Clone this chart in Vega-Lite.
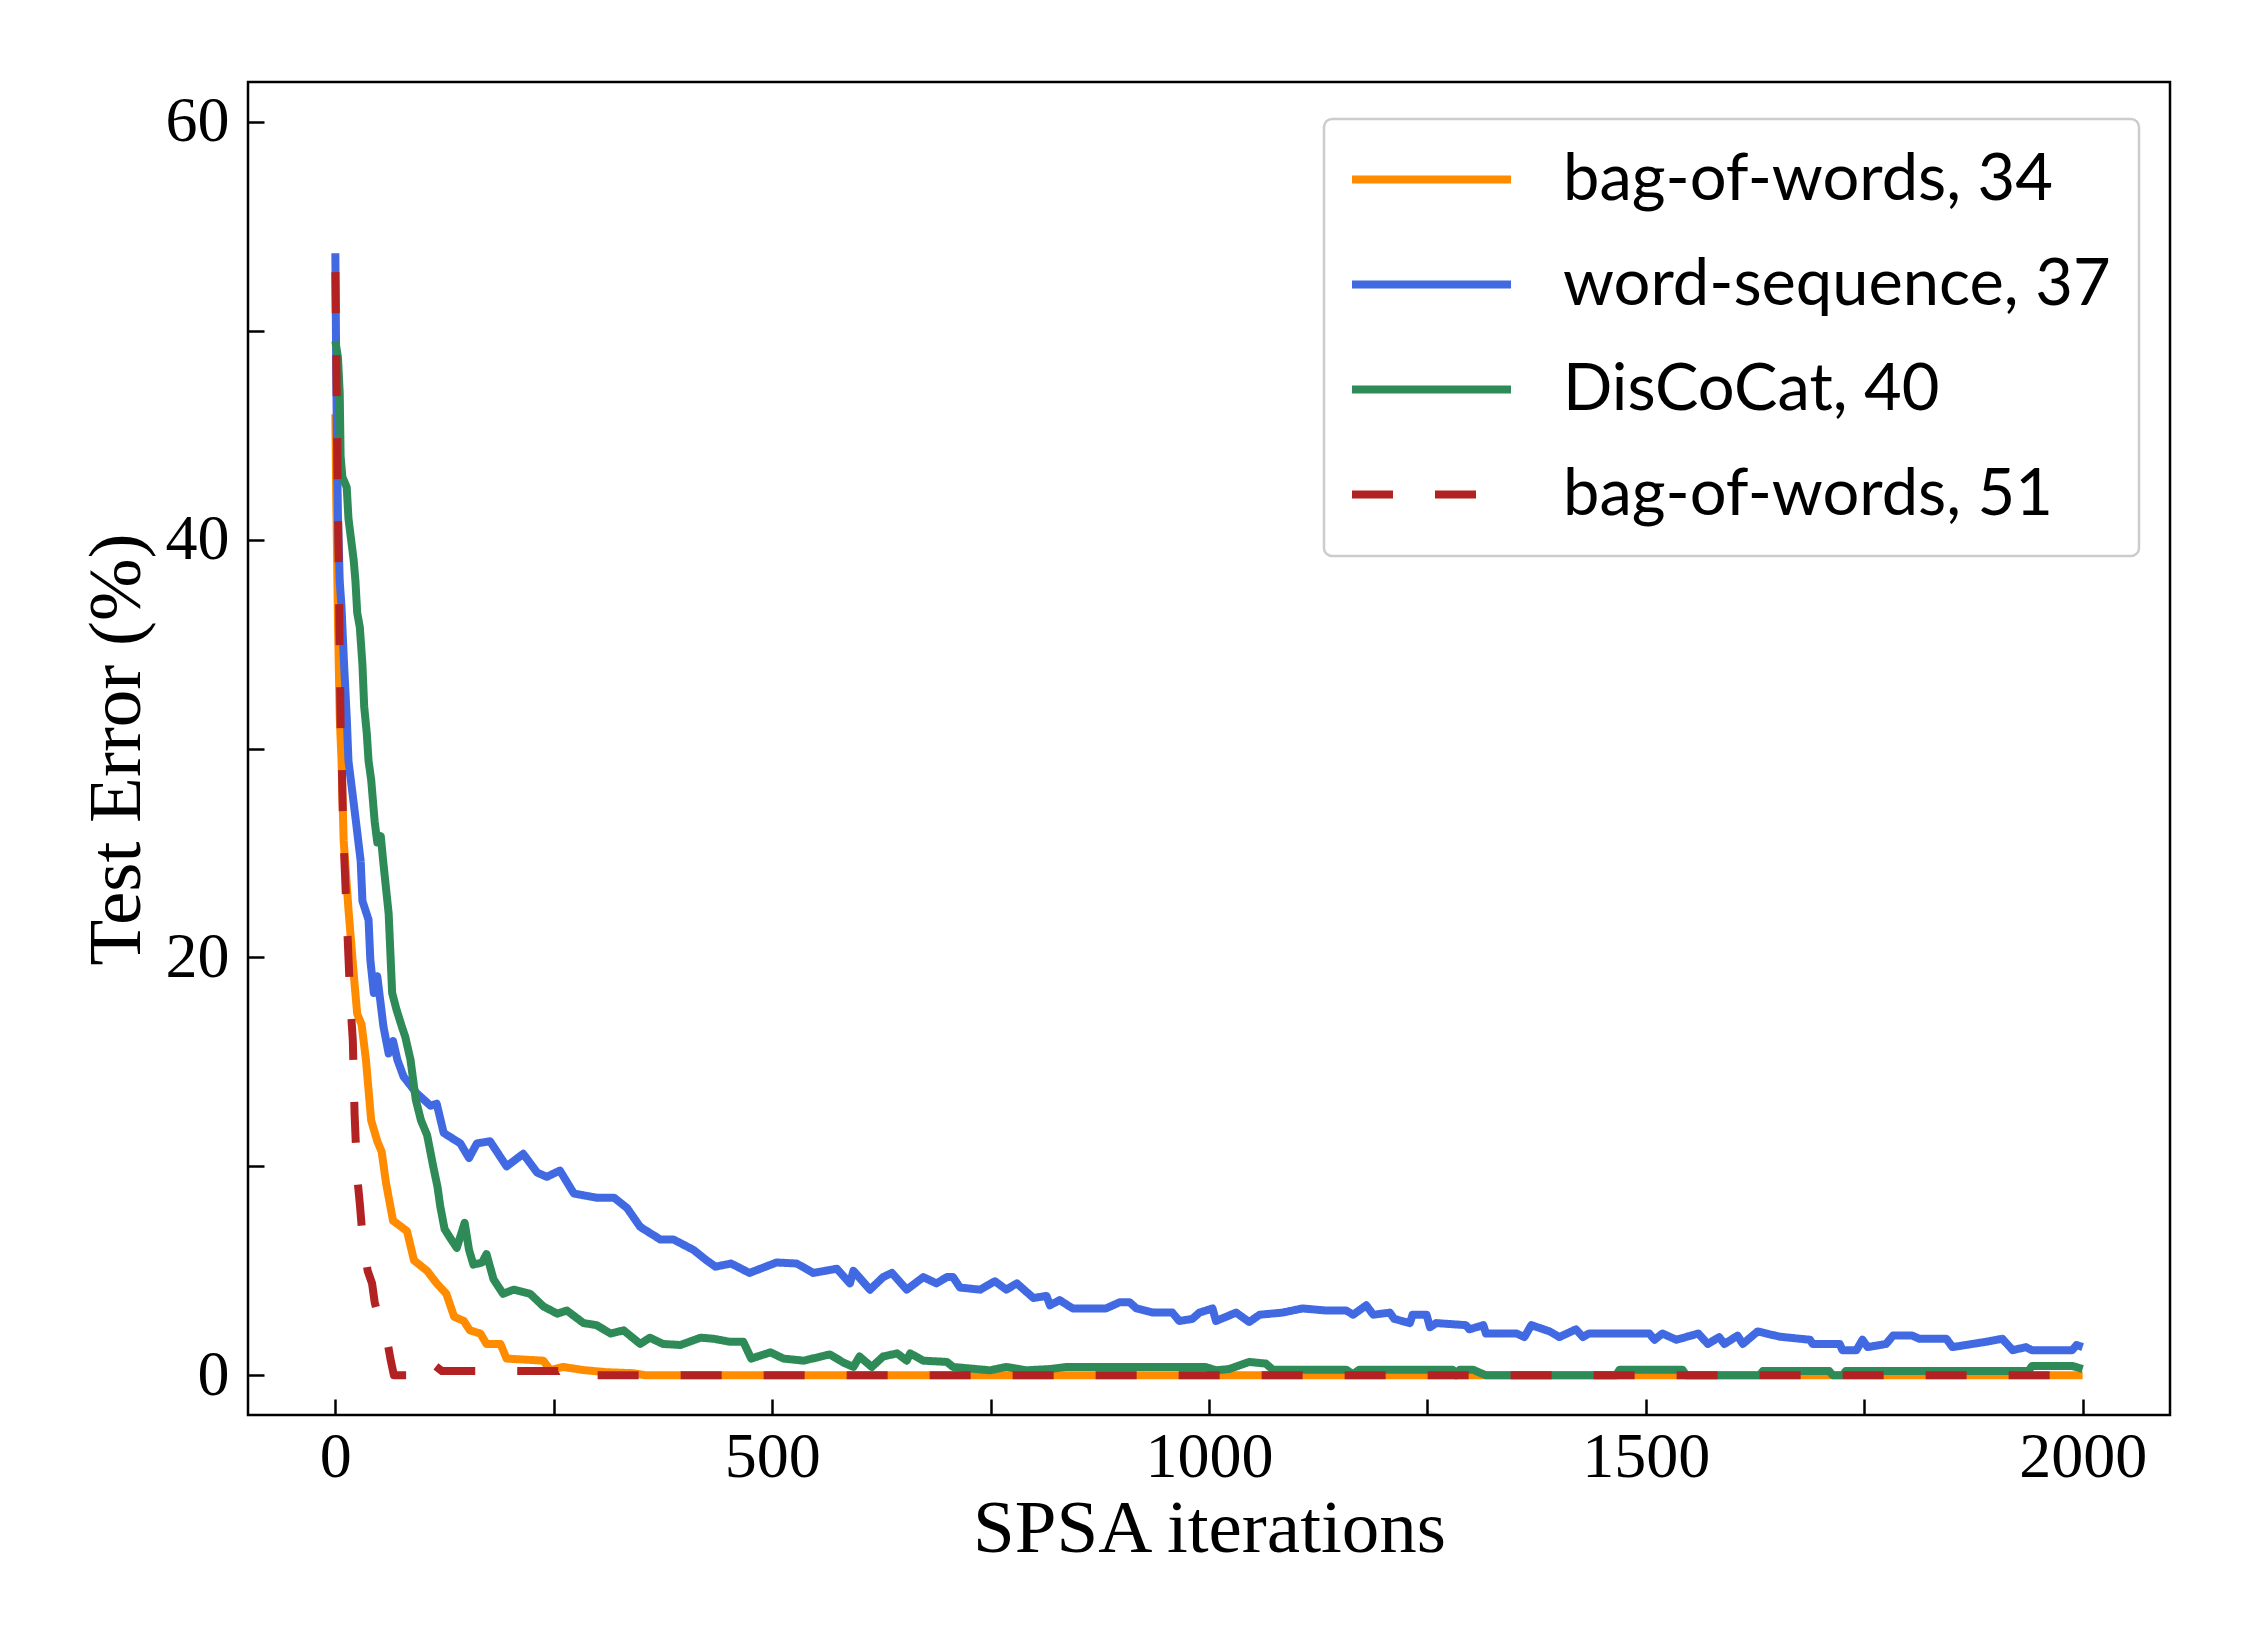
{
  "$schema": "https://vega.github.io/schema/vega-lite/v6.json",
  "width": 1922,
  "height": 1333,
  "autosize": {"type": "none"},
  "padding": {"left": 248, "top": 82, "right": 80, "bottom": 235},
  "background": "white",
  "config": {
    "view": {"stroke": "black", "strokeWidth": 2.5},
    "axis": {
      "grid": false,
      "domain": false,
      "tickColor": "black",
      "tickWidth": 2.5,
      "tickSize": -16,
      "labelFont": "Liberation Serif",
      "labelFontSize": 64,
      "labelColor": "black",
      "titleFont": "Liberation Serif",
      "titleFontSize": 75,
      "titleFontWeight": "normal",
      "titleColor": "black",
      "labelFlush": false,
      "labelOverlap": false,
      "labelBound": false
    },
    "legend": {"strokeWidth": 2.5}
  },
  "data": {
    "values": [
      {"series": "bag-of-words, 34", "iteration": 0, "error": 46},
      {"series": "bag-of-words, 34", "iteration": 1, "error": 42},
      {"series": "bag-of-words, 34", "iteration": 3, "error": 36},
      {"series": "bag-of-words, 34", "iteration": 5, "error": 31.5},
      {"series": "bag-of-words, 34", "iteration": 7, "error": 29.5},
      {"series": "bag-of-words, 34", "iteration": 9.5, "error": 25.6},
      {"series": "bag-of-words, 34", "iteration": 15, "error": 22.3},
      {"series": "bag-of-words, 34", "iteration": 21, "error": 19.2},
      {"series": "bag-of-words, 34", "iteration": 25, "error": 17.3},
      {"series": "bag-of-words, 34", "iteration": 30, "error": 16.8},
      {"series": "bag-of-words, 34", "iteration": 35, "error": 15.1},
      {"series": "bag-of-words, 34", "iteration": 41, "error": 12.2},
      {"series": "bag-of-words, 34", "iteration": 48, "error": 11.2},
      {"series": "bag-of-words, 34", "iteration": 53, "error": 10.7},
      {"series": "bag-of-words, 34", "iteration": 58, "error": 9.2},
      {"series": "bag-of-words, 34", "iteration": 66, "error": 7.4},
      {"series": "bag-of-words, 34", "iteration": 82, "error": 6.9},
      {"series": "bag-of-words, 34", "iteration": 90, "error": 5.5},
      {"series": "bag-of-words, 34", "iteration": 105, "error": 5.0},
      {"series": "bag-of-words, 34", "iteration": 116, "error": 4.4},
      {"series": "bag-of-words, 34", "iteration": 127, "error": 3.9},
      {"series": "bag-of-words, 34", "iteration": 136, "error": 2.8},
      {"series": "bag-of-words, 34", "iteration": 147, "error": 2.6},
      {"series": "bag-of-words, 34", "iteration": 154, "error": 2.15},
      {"series": "bag-of-words, 34", "iteration": 166, "error": 2.0},
      {"series": "bag-of-words, 34", "iteration": 173, "error": 1.5},
      {"series": "bag-of-words, 34", "iteration": 189, "error": 1.5},
      {"series": "bag-of-words, 34", "iteration": 196, "error": 0.8},
      {"series": "bag-of-words, 34", "iteration": 238, "error": 0.7},
      {"series": "bag-of-words, 34", "iteration": 246, "error": 0.25},
      {"series": "bag-of-words, 34", "iteration": 261, "error": 0.4},
      {"series": "bag-of-words, 34", "iteration": 284, "error": 0.25},
      {"series": "bag-of-words, 34", "iteration": 310, "error": 0.15},
      {"series": "bag-of-words, 34", "iteration": 341, "error": 0.1},
      {"series": "bag-of-words, 34", "iteration": 355, "error": 0},
      {"series": "bag-of-words, 34", "iteration": 2000, "error": 0},

      {"series": "word-sequence, 37", "iteration": 0, "error": 53.7},
      {"series": "word-sequence, 37", "iteration": 1, "error": 48},
      {"series": "word-sequence, 37", "iteration": 2, "error": 44},
      {"series": "word-sequence, 37", "iteration": 3, "error": 41},
      {"series": "word-sequence, 37", "iteration": 5, "error": 38},
      {"series": "word-sequence, 37", "iteration": 7, "error": 36.8},
      {"series": "word-sequence, 37", "iteration": 10, "error": 34},
      {"series": "word-sequence, 37", "iteration": 13, "error": 31.5},
      {"series": "word-sequence, 37", "iteration": 15, "error": 29.4},
      {"series": "word-sequence, 37", "iteration": 23, "error": 26.7},
      {"series": "word-sequence, 37", "iteration": 29, "error": 24.6},
      {"series": "word-sequence, 37", "iteration": 31, "error": 22.7},
      {"series": "word-sequence, 37", "iteration": 38, "error": 21.8},
      {"series": "word-sequence, 37", "iteration": 40, "error": 19.9},
      {"series": "word-sequence, 37", "iteration": 44, "error": 18.3},
      {"series": "word-sequence, 37", "iteration": 48, "error": 19.1},
      {"series": "word-sequence, 37", "iteration": 55, "error": 16.7},
      {"series": "word-sequence, 37", "iteration": 61, "error": 15.4},
      {"series": "word-sequence, 37", "iteration": 66, "error": 16.0},
      {"series": "word-sequence, 37", "iteration": 71, "error": 15.1},
      {"series": "word-sequence, 37", "iteration": 78, "error": 14.3},
      {"series": "word-sequence, 37", "iteration": 93, "error": 13.5},
      {"series": "word-sequence, 37", "iteration": 109, "error": 12.9},
      {"series": "word-sequence, 37", "iteration": 116, "error": 13.0},
      {"series": "word-sequence, 37", "iteration": 124, "error": 11.6},
      {"series": "word-sequence, 37", "iteration": 143, "error": 11.1},
      {"series": "word-sequence, 37", "iteration": 153, "error": 10.4},
      {"series": "word-sequence, 37", "iteration": 162, "error": 11.1},
      {"series": "word-sequence, 37", "iteration": 177, "error": 11.2},
      {"series": "word-sequence, 37", "iteration": 196, "error": 10.0},
      {"series": "word-sequence, 37", "iteration": 215, "error": 10.6},
      {"series": "word-sequence, 37", "iteration": 231, "error": 9.7},
      {"series": "word-sequence, 37", "iteration": 242, "error": 9.5},
      {"series": "word-sequence, 37", "iteration": 257, "error": 9.8},
      {"series": "word-sequence, 37", "iteration": 273, "error": 8.7},
      {"series": "word-sequence, 37", "iteration": 299, "error": 8.5},
      {"series": "word-sequence, 37", "iteration": 319, "error": 8.5},
      {"series": "word-sequence, 37", "iteration": 334, "error": 8.0},
      {"series": "word-sequence, 37", "iteration": 349, "error": 7.1},
      {"series": "word-sequence, 37", "iteration": 372, "error": 6.5},
      {"series": "word-sequence, 37", "iteration": 387, "error": 6.5},
      {"series": "word-sequence, 37", "iteration": 410, "error": 6.0},
      {"series": "word-sequence, 37", "iteration": 425, "error": 5.5},
      {"series": "word-sequence, 37", "iteration": 435, "error": 5.2},
      {"series": "word-sequence, 37", "iteration": 453, "error": 5.35},
      {"series": "word-sequence, 37", "iteration": 474, "error": 4.9},
      {"series": "word-sequence, 37", "iteration": 505, "error": 5.4},
      {"series": "word-sequence, 37", "iteration": 528, "error": 5.35},
      {"series": "word-sequence, 37", "iteration": 547, "error": 4.9},
      {"series": "word-sequence, 37", "iteration": 574, "error": 5.1},
      {"series": "word-sequence, 37", "iteration": 589, "error": 4.4},
      {"series": "word-sequence, 37", "iteration": 593, "error": 5.0},
      {"series": "word-sequence, 37", "iteration": 612, "error": 4.1},
      {"series": "word-sequence, 37", "iteration": 627, "error": 4.7},
      {"series": "word-sequence, 37", "iteration": 637, "error": 4.9},
      {"series": "word-sequence, 37", "iteration": 654, "error": 4.1},
      {"series": "word-sequence, 37", "iteration": 673, "error": 4.7},
      {"series": "word-sequence, 37", "iteration": 688, "error": 4.4},
      {"series": "word-sequence, 37", "iteration": 700, "error": 4.7},
      {"series": "word-sequence, 37", "iteration": 707, "error": 4.7},
      {"series": "word-sequence, 37", "iteration": 715, "error": 4.2},
      {"series": "word-sequence, 37", "iteration": 738, "error": 4.1},
      {"series": "word-sequence, 37", "iteration": 755, "error": 4.5},
      {"series": "word-sequence, 37", "iteration": 768, "error": 4.1},
      {"series": "word-sequence, 37", "iteration": 780, "error": 4.4},
      {"series": "word-sequence, 37", "iteration": 799, "error": 3.7},
      {"series": "word-sequence, 37", "iteration": 814, "error": 3.8},
      {"series": "word-sequence, 37", "iteration": 818, "error": 3.35},
      {"series": "word-sequence, 37", "iteration": 829, "error": 3.6},
      {"series": "word-sequence, 37", "iteration": 844, "error": 3.2},
      {"series": "word-sequence, 37", "iteration": 882, "error": 3.2},
      {"series": "word-sequence, 37", "iteration": 898, "error": 3.5},
      {"series": "word-sequence, 37", "iteration": 909, "error": 3.5},
      {"series": "word-sequence, 37", "iteration": 917, "error": 3.2},
      {"series": "word-sequence, 37", "iteration": 936, "error": 3.0},
      {"series": "word-sequence, 37", "iteration": 958, "error": 3.0},
      {"series": "word-sequence, 37", "iteration": 966, "error": 2.6},
      {"series": "word-sequence, 37", "iteration": 981, "error": 2.7},
      {"series": "word-sequence, 37", "iteration": 989, "error": 3.0},
      {"series": "word-sequence, 37", "iteration": 1004, "error": 3.2},
      {"series": "word-sequence, 37", "iteration": 1008, "error": 2.6},
      {"series": "word-sequence, 37", "iteration": 1031, "error": 3.0},
      {"series": "word-sequence, 37", "iteration": 1046, "error": 2.55},
      {"series": "word-sequence, 37", "iteration": 1058, "error": 2.9},
      {"series": "word-sequence, 37", "iteration": 1084, "error": 3.0},
      {"series": "word-sequence, 37", "iteration": 1107, "error": 3.2},
      {"series": "word-sequence, 37", "iteration": 1134, "error": 3.1},
      {"series": "word-sequence, 37", "iteration": 1157, "error": 3.1},
      {"series": "word-sequence, 37", "iteration": 1165, "error": 2.9},
      {"series": "word-sequence, 37", "iteration": 1180, "error": 3.35},
      {"series": "word-sequence, 37", "iteration": 1188, "error": 2.9},
      {"series": "word-sequence, 37", "iteration": 1207, "error": 3.0},
      {"series": "word-sequence, 37", "iteration": 1212, "error": 2.7},
      {"series": "word-sequence, 37", "iteration": 1230, "error": 2.5},
      {"series": "word-sequence, 37", "iteration": 1233, "error": 2.9},
      {"series": "word-sequence, 37", "iteration": 1249, "error": 2.9},
      {"series": "word-sequence, 37", "iteration": 1253, "error": 2.3},
      {"series": "word-sequence, 37", "iteration": 1260, "error": 2.5},
      {"series": "word-sequence, 37", "iteration": 1294, "error": 2.4},
      {"series": "word-sequence, 37", "iteration": 1298, "error": 2.2},
      {"series": "word-sequence, 37", "iteration": 1314, "error": 2.4},
      {"series": "word-sequence, 37", "iteration": 1317, "error": 2.0},
      {"series": "word-sequence, 37", "iteration": 1352, "error": 2.0},
      {"series": "word-sequence, 37", "iteration": 1361, "error": 1.83},
      {"series": "word-sequence, 37", "iteration": 1369, "error": 2.4},
      {"series": "word-sequence, 37", "iteration": 1390, "error": 2.1},
      {"series": "word-sequence, 37", "iteration": 1401, "error": 1.83},
      {"series": "word-sequence, 37", "iteration": 1420, "error": 2.2},
      {"series": "word-sequence, 37", "iteration": 1428, "error": 1.83},
      {"series": "word-sequence, 37", "iteration": 1435, "error": 2.0},
      {"series": "word-sequence, 37", "iteration": 1504, "error": 2.0},
      {"series": "word-sequence, 37", "iteration": 1510, "error": 1.7},
      {"series": "word-sequence, 37", "iteration": 1519, "error": 2.0},
      {"series": "word-sequence, 37", "iteration": 1535, "error": 1.7},
      {"series": "word-sequence, 37", "iteration": 1560, "error": 2.0},
      {"series": "word-sequence, 37", "iteration": 1571, "error": 1.5},
      {"series": "word-sequence, 37", "iteration": 1584, "error": 1.83},
      {"series": "word-sequence, 37", "iteration": 1590, "error": 1.5},
      {"series": "word-sequence, 37", "iteration": 1605, "error": 1.9},
      {"series": "word-sequence, 37", "iteration": 1611, "error": 1.5},
      {"series": "word-sequence, 37", "iteration": 1628, "error": 2.1},
      {"series": "word-sequence, 37", "iteration": 1653, "error": 1.85},
      {"series": "word-sequence, 37", "iteration": 1688, "error": 1.7},
      {"series": "word-sequence, 37", "iteration": 1691, "error": 1.5},
      {"series": "word-sequence, 37", "iteration": 1722, "error": 1.5},
      {"series": "word-sequence, 37", "iteration": 1725, "error": 1.2},
      {"series": "word-sequence, 37", "iteration": 1741, "error": 1.2},
      {"series": "word-sequence, 37", "iteration": 1748, "error": 1.7},
      {"series": "word-sequence, 37", "iteration": 1754, "error": 1.35},
      {"series": "word-sequence, 37", "iteration": 1775, "error": 1.5},
      {"series": "word-sequence, 37", "iteration": 1783, "error": 1.9},
      {"series": "word-sequence, 37", "iteration": 1805, "error": 1.9},
      {"series": "word-sequence, 37", "iteration": 1813, "error": 1.75},
      {"series": "word-sequence, 37", "iteration": 1844, "error": 1.75},
      {"series": "word-sequence, 37", "iteration": 1851, "error": 1.35},
      {"series": "word-sequence, 37", "iteration": 1889, "error": 1.6},
      {"series": "word-sequence, 37", "iteration": 1908, "error": 1.75},
      {"series": "word-sequence, 37", "iteration": 1920, "error": 1.2},
      {"series": "word-sequence, 37", "iteration": 1935, "error": 1.35},
      {"series": "word-sequence, 37", "iteration": 1942, "error": 1.2},
      {"series": "word-sequence, 37", "iteration": 1988, "error": 1.2},
      {"series": "word-sequence, 37", "iteration": 1993, "error": 1.45},
      {"series": "word-sequence, 37", "iteration": 2000, "error": 1.35},

      {"series": "DisCoCat, 40", "iteration": 0, "error": 49.5},
      {"series": "DisCoCat, 40", "iteration": 3, "error": 48.7},
      {"series": "DisCoCat, 40", "iteration": 5, "error": 47},
      {"series": "DisCoCat, 40", "iteration": 6, "error": 44},
      {"series": "DisCoCat, 40", "iteration": 8, "error": 43},
      {"series": "DisCoCat, 40", "iteration": 13, "error": 42.5},
      {"series": "DisCoCat, 40", "iteration": 15, "error": 41},
      {"series": "DisCoCat, 40", "iteration": 18, "error": 40},
      {"series": "DisCoCat, 40", "iteration": 21, "error": 39},
      {"series": "DisCoCat, 40", "iteration": 23, "error": 38},
      {"series": "DisCoCat, 40", "iteration": 25, "error": 36.5},
      {"series": "DisCoCat, 40", "iteration": 28, "error": 35.8},
      {"series": "DisCoCat, 40", "iteration": 31, "error": 34},
      {"series": "DisCoCat, 40", "iteration": 33, "error": 32},
      {"series": "DisCoCat, 40", "iteration": 36, "error": 30.7},
      {"series": "DisCoCat, 40", "iteration": 38, "error": 29.4},
      {"series": "DisCoCat, 40", "iteration": 41, "error": 28.5},
      {"series": "DisCoCat, 40", "iteration": 45, "error": 26.5},
      {"series": "DisCoCat, 40", "iteration": 48, "error": 25.5},
      {"series": "DisCoCat, 40", "iteration": 52, "error": 25.8},
      {"series": "DisCoCat, 40", "iteration": 55, "error": 24.5},
      {"series": "DisCoCat, 40", "iteration": 61, "error": 22.1},
      {"series": "DisCoCat, 40", "iteration": 65, "error": 18.3},
      {"series": "DisCoCat, 40", "iteration": 70, "error": 17.5},
      {"series": "DisCoCat, 40", "iteration": 76, "error": 16.7},
      {"series": "DisCoCat, 40", "iteration": 80, "error": 16.2},
      {"series": "DisCoCat, 40", "iteration": 86, "error": 15.1},
      {"series": "DisCoCat, 40", "iteration": 92, "error": 13.2},
      {"series": "DisCoCat, 40", "iteration": 98, "error": 12.2},
      {"series": "DisCoCat, 40", "iteration": 105, "error": 11.5},
      {"series": "DisCoCat, 40", "iteration": 112, "error": 10.0},
      {"series": "DisCoCat, 40", "iteration": 117, "error": 9.0},
      {"series": "DisCoCat, 40", "iteration": 120, "error": 8.1},
      {"series": "DisCoCat, 40", "iteration": 125, "error": 7.0},
      {"series": "DisCoCat, 40", "iteration": 131, "error": 6.6},
      {"series": "DisCoCat, 40", "iteration": 139, "error": 6.1},
      {"series": "DisCoCat, 40", "iteration": 148, "error": 7.3},
      {"series": "DisCoCat, 40", "iteration": 153, "error": 6.0},
      {"series": "DisCoCat, 40", "iteration": 158, "error": 5.3},
      {"series": "DisCoCat, 40", "iteration": 168, "error": 5.4},
      {"series": "DisCoCat, 40", "iteration": 173, "error": 5.8},
      {"series": "DisCoCat, 40", "iteration": 181, "error": 4.6},
      {"series": "DisCoCat, 40", "iteration": 192, "error": 3.9},
      {"series": "DisCoCat, 40", "iteration": 204, "error": 4.1},
      {"series": "DisCoCat, 40", "iteration": 223, "error": 3.9},
      {"series": "DisCoCat, 40", "iteration": 238, "error": 3.3},
      {"series": "DisCoCat, 40", "iteration": 254, "error": 2.95},
      {"series": "DisCoCat, 40", "iteration": 265, "error": 3.1},
      {"series": "DisCoCat, 40", "iteration": 284, "error": 2.5},
      {"series": "DisCoCat, 40", "iteration": 299, "error": 2.4},
      {"series": "DisCoCat, 40", "iteration": 315, "error": 2.0},
      {"series": "DisCoCat, 40", "iteration": 330, "error": 2.15},
      {"series": "DisCoCat, 40", "iteration": 349, "error": 1.5},
      {"series": "DisCoCat, 40", "iteration": 360, "error": 1.8},
      {"series": "DisCoCat, 40", "iteration": 375, "error": 1.5},
      {"series": "DisCoCat, 40", "iteration": 395, "error": 1.45},
      {"series": "DisCoCat, 40", "iteration": 418, "error": 1.8},
      {"series": "DisCoCat, 40", "iteration": 433, "error": 1.75},
      {"series": "DisCoCat, 40", "iteration": 452, "error": 1.6},
      {"series": "DisCoCat, 40", "iteration": 467, "error": 1.6},
      {"series": "DisCoCat, 40", "iteration": 476, "error": 0.8},
      {"series": "DisCoCat, 40", "iteration": 498, "error": 1.1},
      {"series": "DisCoCat, 40", "iteration": 513, "error": 0.8},
      {"series": "DisCoCat, 40", "iteration": 536, "error": 0.7},
      {"series": "DisCoCat, 40", "iteration": 566, "error": 1.0},
      {"series": "DisCoCat, 40", "iteration": 582, "error": 0.6},
      {"series": "DisCoCat, 40", "iteration": 593, "error": 0.4},
      {"series": "DisCoCat, 40", "iteration": 600, "error": 0.9},
      {"series": "DisCoCat, 40", "iteration": 614, "error": 0.4},
      {"series": "DisCoCat, 40", "iteration": 627, "error": 0.9},
      {"series": "DisCoCat, 40", "iteration": 643, "error": 1.05},
      {"series": "DisCoCat, 40", "iteration": 654, "error": 0.7},
      {"series": "DisCoCat, 40", "iteration": 658, "error": 1.05},
      {"series": "DisCoCat, 40", "iteration": 673, "error": 0.7},
      {"series": "DisCoCat, 40", "iteration": 700, "error": 0.64},
      {"series": "DisCoCat, 40", "iteration": 707, "error": 0.4},
      {"series": "DisCoCat, 40", "iteration": 749, "error": 0.24},
      {"series": "DisCoCat, 40", "iteration": 768, "error": 0.4},
      {"series": "DisCoCat, 40", "iteration": 791, "error": 0.24},
      {"series": "DisCoCat, 40", "iteration": 818, "error": 0.3},
      {"series": "DisCoCat, 40", "iteration": 837, "error": 0.4},
      {"series": "DisCoCat, 40", "iteration": 996, "error": 0.4},
      {"series": "DisCoCat, 40", "iteration": 1008, "error": 0.24},
      {"series": "DisCoCat, 40", "iteration": 1023, "error": 0.3},
      {"series": "DisCoCat, 40", "iteration": 1046, "error": 0.64},
      {"series": "DisCoCat, 40", "iteration": 1065, "error": 0.56},
      {"series": "DisCoCat, 40", "iteration": 1073, "error": 0.27},
      {"series": "DisCoCat, 40", "iteration": 1157, "error": 0.27},
      {"series": "DisCoCat, 40", "iteration": 1165, "error": 0.05},
      {"series": "DisCoCat, 40", "iteration": 1172, "error": 0.27},
      {"series": "DisCoCat, 40", "iteration": 1279, "error": 0.27},
      {"series": "DisCoCat, 40", "iteration": 1283, "error": 0},
      {"series": "DisCoCat, 40", "iteration": 1287, "error": 0.27},
      {"series": "DisCoCat, 40", "iteration": 1302, "error": 0.27},
      {"series": "DisCoCat, 40", "iteration": 1317, "error": 0},
      {"series": "DisCoCat, 40", "iteration": 1466, "error": 0},
      {"series": "DisCoCat, 40", "iteration": 1470, "error": 0.27},
      {"series": "DisCoCat, 40", "iteration": 1542, "error": 0.27},
      {"series": "DisCoCat, 40", "iteration": 1546, "error": 0},
      {"series": "DisCoCat, 40", "iteration": 1630, "error": 0},
      {"series": "DisCoCat, 40", "iteration": 1634, "error": 0.2},
      {"series": "DisCoCat, 40", "iteration": 1710, "error": 0.2},
      {"series": "DisCoCat, 40", "iteration": 1714, "error": 0},
      {"series": "DisCoCat, 40", "iteration": 1725, "error": 0},
      {"series": "DisCoCat, 40", "iteration": 1729, "error": 0.2},
      {"series": "DisCoCat, 40", "iteration": 1938, "error": 0.2},
      {"series": "DisCoCat, 40", "iteration": 1942, "error": 0.45},
      {"series": "DisCoCat, 40", "iteration": 1988, "error": 0.45},
      {"series": "DisCoCat, 40", "iteration": 2000, "error": 0.3},

      {"series": "bag-of-words, 51", "iteration": 0, "error": 52.8},
      {"series": "bag-of-words, 51", "iteration": 2, "error": 45},
      {"series": "bag-of-words, 51", "iteration": 4, "error": 38},
      {"series": "bag-of-words, 51", "iteration": 6, "error": 31},
      {"series": "bag-of-words, 51", "iteration": 7.5, "error": 29},
      {"series": "bag-of-words, 51", "iteration": 9, "error": 26},
      {"series": "bag-of-words, 51", "iteration": 11, "error": 24},
      {"series": "bag-of-words, 51", "iteration": 14, "error": 21},
      {"series": "bag-of-words, 51", "iteration": 17, "error": 18},
      {"series": "bag-of-words, 51", "iteration": 20, "error": 16},
      {"series": "bag-of-words, 51", "iteration": 22, "error": 12.5},
      {"series": "bag-of-words, 51", "iteration": 25, "error": 9.5},
      {"series": "bag-of-words, 51", "iteration": 28, "error": 8.2},
      {"series": "bag-of-words, 51", "iteration": 32, "error": 6.2},
      {"series": "bag-of-words, 51", "iteration": 37, "error": 5},
      {"series": "bag-of-words, 51", "iteration": 42, "error": 4.4},
      {"series": "bag-of-words, 51", "iteration": 45, "error": 3.5},
      {"series": "bag-of-words, 51", "iteration": 48, "error": 3.0},
      {"series": "bag-of-words, 51", "iteration": 53, "error": 2.5},
      {"series": "bag-of-words, 51", "iteration": 60, "error": 1.5},
      {"series": "bag-of-words, 51", "iteration": 63, "error": 0.8},
      {"series": "bag-of-words, 51", "iteration": 67, "error": 0},
      {"series": "bag-of-words, 51", "iteration": 92, "error": 0},
      {"series": "bag-of-words, 51", "iteration": 103, "error": 0.8},
      {"series": "bag-of-words, 51", "iteration": 110, "error": 0.6},
      {"series": "bag-of-words, 51", "iteration": 122, "error": 0.2},
      {"series": "bag-of-words, 51", "iteration": 255, "error": 0.2},
      {"series": "bag-of-words, 51", "iteration": 262, "error": 0.4},
      {"series": "bag-of-words, 51", "iteration": 272, "error": 0.2},
      {"series": "bag-of-words, 51", "iteration": 300, "error": 0},
      {"series": "bag-of-words, 51", "iteration": 2000, "error": 0}
    ]
  },
  "mark": {"type": "line", "strokeWidth": 8, "strokeJoin": "round", "strokeCap": "butt"},
  "encoding": {
    "x": {
      "field": "iteration",
      "type": "quantitative",
      "scale": {"domain": [-100, 2100], "nice": false, "zero": false},
      "axis": {
        "title": "SPSA iterations",
        "values": [0, 250, 500, 750, 1000, 1250, 1500, 1750, 2000],
        "format": "d",
        "labelExpr": "datum.value % 500 === 0 ? datum.label : ''",
        "labelPadding": 26,
        "titleY": 136,
        "titleBaseline": "alphabetic"
      }
    },
    "y": {
      "field": "error",
      "type": "quantitative",
      "scale": {"domain": [-1.9, 61.9], "nice": false, "zero": false},
      "axis": {
        "title": "Test Error (%)",
        "values": [0, 10, 20, 30, 40, 50, 60],
        "format": "d",
        "labelExpr": "datum.value % 20 === 0 ? datum.label : ''",
        "labelPadding": 35,
        "titleX": -109,
        "titleY": 667,
        "titleAngle": 270,
        "titleAlign": "center",
        "titleBaseline": "alphabetic"
      }
    },
    "color": {
      "field": "series",
      "type": "nominal",
      "scale": {
        "domain": ["bag-of-words, 34", "word-sequence, 37", "DisCoCat, 40", "bag-of-words, 51"],
        "range": ["#ff8c00", "#4169e1", "#2e8b57", "#b22222"]
      },
      "legend": {
        "title": null,
        "orient": "none",
        "legendX": 1076,
        "legendY": 37,
        "direction": "vertical",
        "symbolType": "M-4,0H4",
        "symbolSize": 1580,
        "symbolStrokeWidth": 8,
        "symbolOffset": 47,
        "labelOffset": 99,
        "labelFont": "Lato",
        "labelFontSize": 65,
        "labelColor": "black",
        "labelLimit": 0,
        "rowPadding": 39,
        "padding": 28,
        "fillColor": "white",
        "strokeColor": "#cccccc",
        "cornerRadius": 8
      }
    },
    "strokeDash": {
      "field": "series",
      "type": "nominal",
      "scale": {
        "domain": ["bag-of-words, 34", "word-sequence, 37", "DisCoCat, 40", "bag-of-words, 51"],
        "range": [[1, 0], [1, 0], [1, 0], [41, 42]]
      }
    }
  }
}
